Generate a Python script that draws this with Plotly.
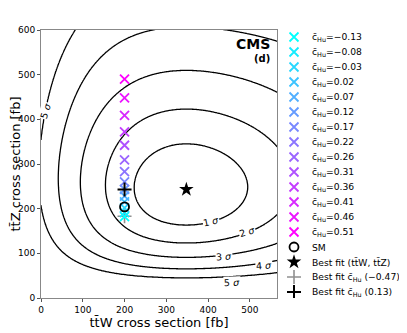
import numpy as np
import plotly.graph_objects as go

# c_Hu scan points (ttW fixed at 200 fb)
chu_vals = [-0.13, -0.08, -0.03, 0.02, 0.07, 0.12, 0.17, 0.22, 0.26, 0.31, 0.36, 0.41, 0.46, 0.51]
scan_ttw = [200] * 14
scan_ttz = [182, 191, 202, 215, 228, 243, 260, 283, 309, 342, 372, 409, 448, 490]

sm_point = [200, 204]
best_fit = [348, 243]
best_fit_chu_neg = [200, 183]
best_fit_chu_pos = [200, 243]

# likelihood surface parameters
x0, y0 = 348.0, 243.0
nx, bx = 39.0, 210.0
ny, ky = 16.6, 2.6e-4
chi2_levels = [2.30, 6.18, 11.83, 19.33, 28.74]

# label spots for the sigma contours
lab_x = [406, 494, 438, 534, 458, 12]
lab_y = [172, 150, 94, 72, 34, 419]
lab_txt = ['1', '2', '3', '4', '5', '5']
lab_rot = [-12, -16, -4, -4, -2, -72]

# page has an 8px body margin, so the figure is drawn 8px smaller
OFF = 8
W, H = 407 - OFF, 333 - OFF
ML, MR, MT, MB = 41 - OFF, 3, 30 - OFF, 35
plot_right = 277 - OFF


def dev(t):
    return t - 1 - np.log(t)


gx = np.linspace(0, 570, 300)
gy = np.linspace(1, 610, 320)
X, Y = np.meshgrid(gx, gy)
yc = y0 + ky * (X - x0) ** 2
chi2 = 2 * nx * dev((X + bx) / (x0 + bx)) + 2 * ny * dev(Y / yc)
Z = np.interp(chi2, [0] + chi2_levels + [60, 1e5], [0, 1, 2, 3, 4, 5, 6.5, 100])


def cool(v):
    c = (v - min(chu_vals)) / (max(chu_vals) - min(chu_vals))
    return 'rgb(%d,%d,255)' % (round(255 * c), round(255 * (1 - c)))


fig = go.Figure()

fig.add_trace(go.Contour(
    x=gx, y=gy, z=Z,
    contours=dict(coloring='lines', start=1, end=5, size=1, showlabels=False),
    line=dict(color='black', width=1.3),
    colorscale=[[0, 'black'], [1, 'black']],
    showscale=False, showlegend=False, hoverinfo='skip'))

# legend entries: (label, marker)
leg_items = []

m_neg = dict(symbol='cross-thin', size=10, line=dict(color='#909090', width=1.6))
fig.add_trace(go.Scatter(x=[best_fit_chu_neg[0]], y=[best_fit_chu_neg[1]], mode='markers',
                         marker=m_neg, showlegend=False))

for i, v in enumerate(chu_vals):
    lbl = ('%.2f' % v).replace('-', '\u2212')
    m = dict(symbol='x-thin', size=9, line=dict(color=cool(v), width=1.8))
    fig.add_trace(go.Scatter(x=[scan_ttw[i]], y=[scan_ttz[i]], mode='markers',
                             marker=m, showlegend=False))
    leg_items.append(('c\u0304<sub>Hu</sub>=' + lbl, m))

m_sm = dict(symbol='circle-open', size=9, color='black', line=dict(width=1.8))
fig.add_trace(go.Scatter(x=[sm_point[0]], y=[sm_point[1]], mode='markers',
                         marker=m_sm, showlegend=False))
leg_items.append(('SM', m_sm))

m_best = dict(symbol='star', size=11, color='black')
fig.add_trace(go.Scatter(x=[best_fit[0]], y=[best_fit[1]], mode='markers',
                         marker=m_best, showlegend=False))
leg_items.append(('Best fit (tt\u0304W, tt\u0304Z)', m_best))
leg_items.append(('Best fit c\u0304<sub>Hu</sub> (\u22120.47)', m_neg))

m_pos = dict(symbol='cross-thin', size=10, line=dict(color='black', width=2))
fig.add_trace(go.Scatter(x=[best_fit_chu_pos[0]], y=[best_fit_chu_pos[1]], mode='markers',
                         marker=m_pos, showlegend=False))
leg_items.append(('Best fit c\u0304<sub>Hu</sub> (0.13)', m_pos))

# hand-made legend on its own pixel axis so the rows can sit 15 px apart
row0, row_step = 37 - OFF, 15
sym_x, txt_x = 294 - OFF, 310 - OFF
for i, (lbl, m) in enumerate(leg_items):
    fig.add_trace(go.Scatter(x=[sym_x], y=[row0 + i * row_step], mode='markers', marker=m,
                             xaxis='x2', yaxis='y2', showlegend=False, hoverinfo='skip'))
    fig.add_annotation(x=txt_x, y=row0 + i * row_step, xref='x2', yref='y2', text=lbl,
                       showarrow=False, xanchor='left', yanchor='middle',
                       font=dict(size=9.2, color='black'))

for i in range(len(lab_x)):
    fig.add_annotation(x=lab_x[i], y=lab_y[i], text=lab_txt[i] + ' <i>\u03c3</i>',
                       showarrow=False, bgcolor='white', textangle=lab_rot[i],
                       borderpad=0, font=dict(size=9.5, color='black'))

fig.add_annotation(x=553, y=590, text='<b>CMS</b>', showarrow=False,
                   xanchor='right', yanchor='top', font=dict(size=14, color='black'))
fig.add_annotation(x=553, y=552, text='<b>(d)</b>', showarrow=False,
                   xanchor='right', yanchor='top', font=dict(size=10, color='black'))

axis_style = dict(showgrid=False, zeroline=False, showline=True, mirror=True,
                  linecolor='#888888', linewidth=1, ticks='outside', ticklen=3,
                  tickcolor='#555555', tickfont=dict(size=9, color='black'),
                  automargin=False)

pw = W - ML - MR
d_end = (plot_right - ML) / pw
d2 = d_end + 0.005

fig.update_layout(
    width=W, height=H,
    margin=dict(l=ML, r=MR, t=MT, b=MB),
    plot_bgcolor='white', paper_bgcolor='white',
    font=dict(family='DejaVu Sans', color='black'),
    showlegend=False,
    xaxis=dict(domain=[0, d_end], range=[0, 565], tickvals=[0, 100, 200, 300, 400, 500],
               title=dict(text='tt\u0304W cross section [fb]', font=dict(size=13), standoff=2),
               **axis_style),
    yaxis=dict(range=[0, 600], tickvals=[0, 100, 200, 300, 400, 500, 600],
               title=dict(text='tt\u0304Z cross section [fb]', font=dict(size=13), standoff=2),
               **axis_style),
    xaxis2=dict(domain=[d2, 1], range=[ML + d2 * pw, W - MR], visible=False,
                fixedrange=True),
    yaxis2=dict(domain=[0, 1], range=[H - MB, MT], visible=False, anchor='x2',
                fixedrange=True),
)

fig.write_html("out.html")
